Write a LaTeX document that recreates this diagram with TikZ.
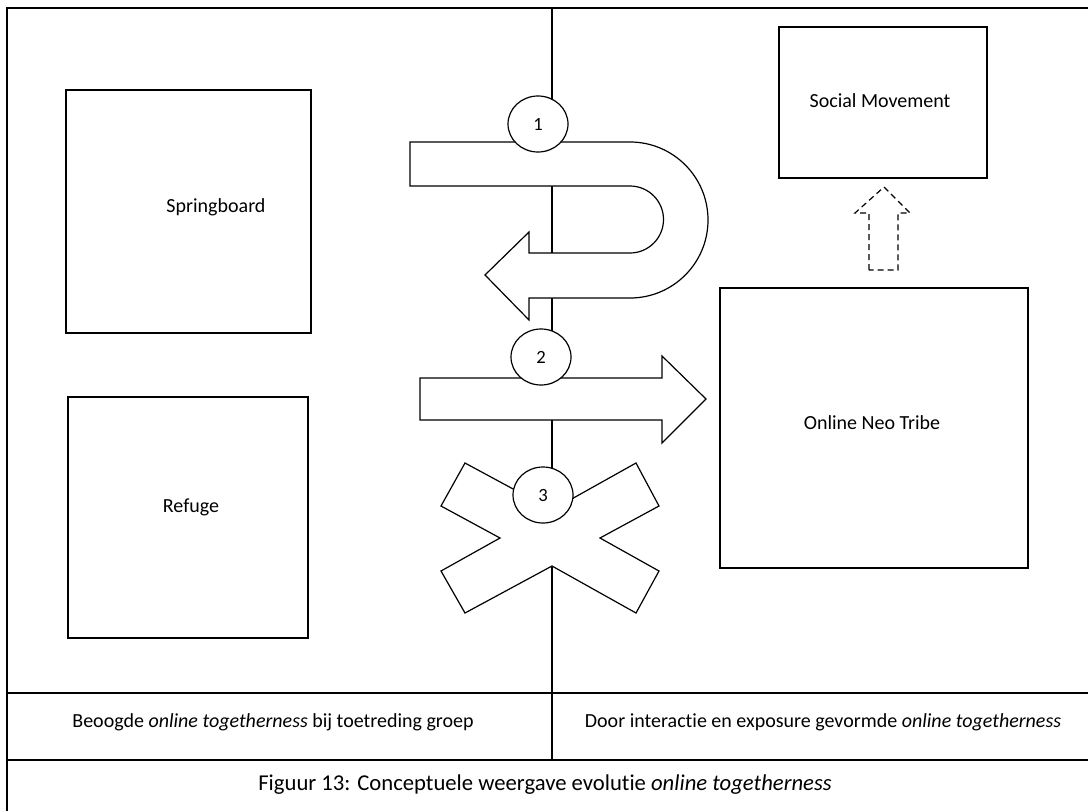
\documentclass[tikz,border=0pt]{standalone}
\usepackage{fontspec}
\setmainfont{Carlito}[Ligatures=NoCommon]
\usetikzlibrary{shapes.geometric}
\begin{document}
\begin{tikzpicture}[x=0.75pt,y=-0.75pt,
  rule/.style={line width=1.2pt},
  block/.style={draw, line width=1.1pt, fill=white, inner sep=0pt},
  lbl/.style={font=\fontsize{15}{18}\selectfont, inner sep=0pt},
  cell/.style={font=\fontsize{15}{18}\selectfont, inner sep=0pt},
  flow/.style={draw, line width=0.9pt, fill=white, line join=miter},
  badge/.style={draw, ellipse, line width=0.9pt, fill=white, inner sep=0pt,
                minimum width=45pt, minimum height=42pt, font=\fontsize{14}{16}\selectfont},
  ghost/.style={draw, dashed, dash pattern=on 4.5pt off 3pt, line width=0.9pt}]
\useasboundingbox (0,0) rectangle (1088,810);
\clip (0,0) rectangle (1088,810);

% outer frame, table rows and the column divider
\draw[rule] (1100,8) -- (7,8) -- (7,820);
\draw[rule] (7,693) -- (1100,693);
\draw[rule] (7,760) -- (1100,760);
\draw[rule] (552,8) -- (552,760);

% concept boxes
\node[block, minimum width=183.75pt, minimum height=182.25pt] (spring) at (188.5,211.5) {};
\node[lbl] at (216,207) {Springboard};
\node[block, minimum width=180pt, minimum height=180.75pt] (refuge) at (188,517.5) {};
\node[lbl] at (191,507) {Refuge};
\node[block, minimum width=156pt, minimum height=113.25pt] (social) at (883,102.5) {};
\node[lbl] at (880,101) {Social Movement};
\node[block, minimum width=231pt, minimum height=210pt] (tribe) at (874,428) {};
\node[lbl] at (872,423) {Online Neo Tribe};

% U-turn arrow (1)
\draw[flow] (410,142) -- (630,142) arc[start angle=-90, end angle=90, radius=78]
  -- (529,298) -- (529,320) -- (485,275) -- (529,232) -- (529,253) -- (630,253)
  arc[start angle=90, end angle=-90, radius=33.5] -- (410,186) -- cycle;

% straight arrow (2)
\draw[flow] (420,378) -- (662,378) -- (662,356) -- (706,399) -- (662,443)
  -- (662,420) -- (420,420) -- cycle;

% cross (3)
\draw[flow] (465,463) -- (441,506) -- (500,538) -- (441,571) -- (465,613)
  -- (552,566) -- (636,613) -- (659,571) -- (600,538) -- (659,506)
  -- (636,463) -- (552,510) -- cycle;

% dashed block arrow from the tribe up to the social movement
\draw[ghost] (869,270) -- (869,213) -- (855,213) -- (884,187) -- (910,213)
  -- (898,213) -- (898,270) -- cycle;

% numbered badges
\node[badge] (b1) at (538,124) {1};
\node[badge] (b2) at (541,357) {2};
\node[badge] (b3) at (543,495) {3};

% row texts and caption
\node[cell] (left) at (273,722) {Beoogde \textit{online togetherness} bij toetreding groep};
\node[cell] (right) at (823,722) {Door interactie en exposure gevormde \textit{online togetherness}};
\node[font=\fontsize{17}{20}\selectfont, inner sep=0pt] (cap) at (545,785)
  {Figuur 13: Conceptuele weergave evolutie \textit{online togetherness}};
\end{tikzpicture}
\end{document}
